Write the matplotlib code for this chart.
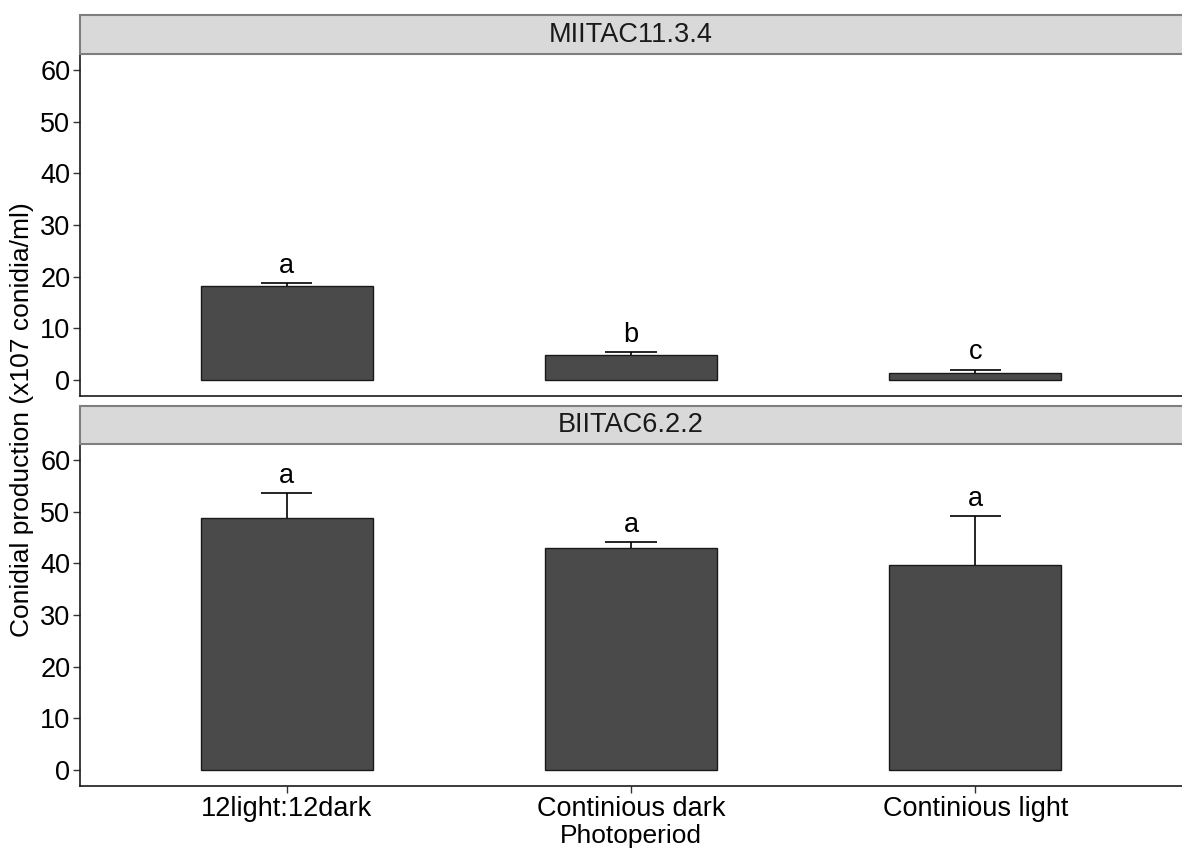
import matplotlib
matplotlib.use("Agg")
import matplotlib.pyplot as plt
from matplotlib.patches import Rectangle

plt.rcParams['font.family'] = ['Liberation Sans', 'DejaVu Sans']

categories = ["12light:12dark", "Continious dark", "Continious light"]
strains = ["MIITAC11.3.4", "BIITAC6.2.2"]
means = [[18.2, 4.8, 1.4],
         [48.7, 42.9, 39.7]]
upper_err = [[0.6, 0.6, 0.6],
             [4.9, 1.2, 9.4]]
letters = [["a", "b", "c"],
           ["a", "a", "a"]]

fig = plt.figure(figsize=(11.82, 8.5), dpi=100)

left = 80 / 1182
width = 1 - left
panels = [(54, 396, 15), (444, 786, 406)]
x = list(range(1, len(categories) + 1))
cap = 0.075

for i, (ptop, pbot, stop) in enumerate(panels):
    ax = fig.add_axes([left, 1 - pbot / 850, width, (pbot - ptop) / 850])
    ax.bar(x, means[i], width=0.5, color="#4a4a4a", edgecolor="#1a1a1a",
           linewidth=1.0, zorder=2)
    tops = [m + e for m, e in zip(means[i], upper_err[i])]
    ax.vlines(x, means[i], tops, color="black", linewidth=1.2, zorder=3)
    ax.hlines(tops, [v - cap for v in x], [v + cap for v in x],
              color="black", linewidth=1.2, zorder=3)
    for xi, t, lab in zip(x, tops, letters[i]):
        ax.annotate(lab, (xi, t), xytext=(0, 3), textcoords="offset points",
                    ha="center", va="bottom", fontsize=19.5, color="black")
    ax.set_xlim(0.4, 3.6)
    ax.set_ylim(-3.1, 63.1)
    ax.set_yticks([0, 10, 20, 30, 40, 50, 60])
    ax.tick_params(axis="y", labelsize=19.5, length=5, width=1, color="#333333",
                   labelcolor="black", pad=2)
    for s in ["top", "right"]:
        ax.spines[s].set_visible(False)
    for s in ["left", "bottom"]:
        ax.spines[s].set_color("#1a1a1a")
        ax.spines[s].set_linewidth(1.2)
    if i == 0:
        ax.set_xticks([])
    else:
        ax.set_xticks(x)
        ax.set_xticklabels(categories)
        ax.tick_params(axis="x", labelsize=19.5, length=5, width=1,
                       color="#333333", labelcolor="black", pad=2)

    sax = fig.add_axes([left, 1 - ptop / 850, width, (ptop - stop) / 850])
    sax.set_xlim(0, 1)
    sax.set_ylim(0, 1)
    sax.axis("off")
    sax.add_patch(Rectangle((0, 0), 1.01, 1, facecolor="#d9d9d9",
                            edgecolor="#7f7f7f", linewidth=1.5,
                            transform=sax.transAxes, clip_on=False))
    sax.text((631 - 80) / (1182 - 80), 0.5, strains[i], ha="center",
             va="center", fontsize=19.5, color="#1a1a1a")

fig.text(22 / 1182, 1 - 420 / 850, "Conidial production (x107 conidia/ml)",
         rotation=90, ha="center", va="center", fontsize=19)
fig.text(631 / 1182, 1 - 836 / 850, "Photoperiod", ha="center", va="center",
         fontsize=19)

fig.savefig("out.png", dpi=100)
